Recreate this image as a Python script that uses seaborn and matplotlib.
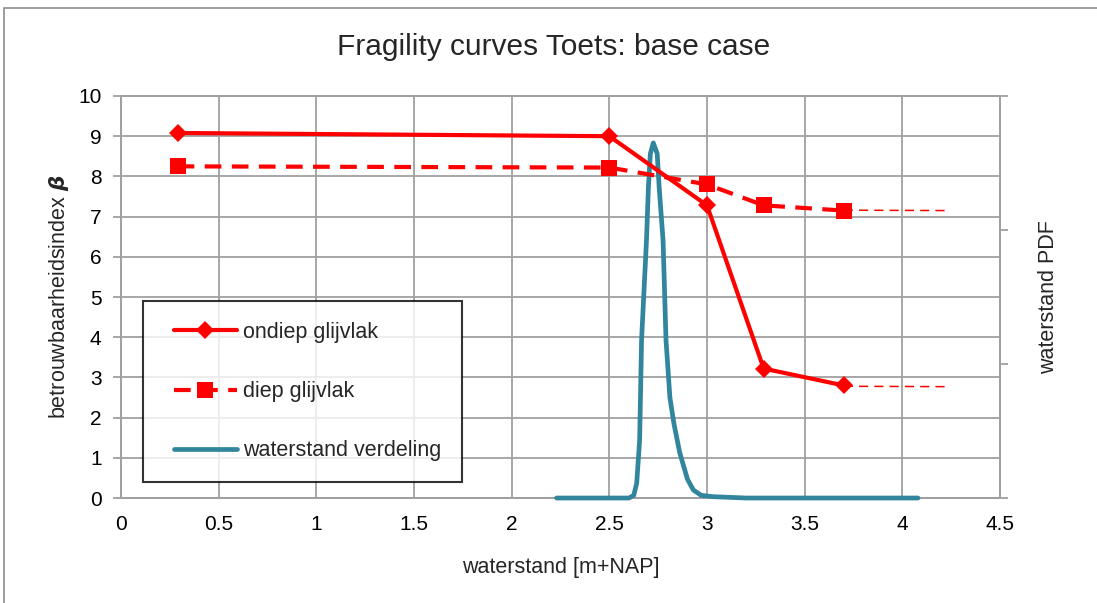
import numpy as np
import pandas as pd
import matplotlib
matplotlib.use('Agg')
import matplotlib.pyplot as plt
from matplotlib.patches import Rectangle
from matplotlib.lines import Line2D
from matplotlib.legend_handler import HandlerLine2D
import seaborn as sns

# fragility curves (waterstand -> beta)
x_frag = [0.29, 2.5, 3.0, 3.29, 3.7]
beta_ondiep = [9.08, 9.0, 7.28, 3.22, 2.8]
beta_diep = [8.25, 8.22, 7.8, 7.28, 7.15]

# extrapolation beyond last point
x_ext = [3.7, 4.22]
ext_ondiep = [2.78, 2.77]
ext_diep = [7.16, 7.15]

# waterstand PDF (right axis)
x_pdf = [2.23, 2.60, 2.625, 2.64, 2.655, 2.665, 2.69, 2.70, 2.71, 2.725, 2.745, 2.755, 2.775,
         2.79, 2.81, 2.83, 2.86, 2.90, 2.93, 2.97, 3.03, 3.2, 4.08]
pdf = [0.0, 0.0, 0.02, 0.11, 0.43, 1.18, 1.92, 2.32, 2.57, 2.65, 2.57, 2.32, 1.92,
       1.18, 0.75, 0.56, 0.34, 0.14, 0.06, 0.02, 0.01, 0.0, 0.0]

sns.set_style('white')
plt.rcParams['font.family'] = ['Liberation Sans', 'DejaVu Sans']

red = '#FF0000'
teal = '#31859C'
grid = '#A0A0A0'
fs = 15

fig = plt.figure(figsize=(10.97, 6.03), dpi=100)
ax = fig.add_axes([0.1103, 0.1741, 0.8013, 0.6667])
ax2 = ax.twinx()
ax2.set_ylim(0, 3)

# PDF is drawn in the left axes but in right-axis data units
sns.lineplot(x=x_pdf, y=pdf, ax=ax, color=teal, lw=3.4, label='waterstand verdeling',
             solid_capstyle='round', transform=ax2.transData, zorder=3, clip_on=False)
sns.lineplot(x=x_frag, y=beta_ondiep, ax=ax, color=red, lw=3, marker='D', markersize=9,
             markeredgewidth=0, label='ondiep glijvlak', zorder=5)
sns.lineplot(x=x_frag, y=beta_diep, ax=ax, color=red, lw=3, marker='s', markersize=12,
             markeredgewidth=0, linestyle=(0, (4, 2.5)), label='diep glijvlak', zorder=4)
sns.lineplot(x=x_ext, y=ext_ondiep, ax=ax, color=red, lw=1.1, linestyle=(0, (6, 4)), legend=False)
sns.lineplot(x=x_ext, y=ext_diep, ax=ax, color=red, lw=1.1, linestyle=(0, (6, 4)), legend=False)

ax.set_xlim(0, 4.5)
ax.set_ylim(0, 10)
ax.set_xticks(np.arange(0, 4.51, 0.5))
ax.set_xticklabels(['0', '0.5', '1', '1.5', '2', '2.5', '3', '3.5', '4', '4.5'])
ax.set_yticks(range(0, 11))
ax2.set_yticks([0, 1, 2, 3])
ax2.set_yticklabels([])

ax.set_axisbelow(True)
ax.grid(True, color=grid, lw=1.3)
for a in (ax, ax2):
    for s in a.spines.values():
        s.set_color(grid)
        s.set_linewidth(1.3)
    a.tick_params(direction='out', length=6, width=1.3, color=grid, labelsize=fs,
                  labelcolor='black')
ax.tick_params(axis='x', pad=6)
ax.tick_params(axis='y', pad=8)

ax.set_xlabel('waterstand [m+NAP]', fontsize=fs + 0.5, labelpad=17)
ax.set_ylabel(r'betrouwbaarheidsindex $\boldsymbol{\beta}$', fontsize=fs + 0.5, labelpad=5)
ax2.set_ylabel('waterstand PDF', fontsize=fs + 0.5, labelpad=18)
fig.text(0.505, 0.922, 'Fragility curves Toets: base case', ha='center', va='center', fontsize=21.5)

# legend in the reference order
h, l = ax.get_legend_handles_labels()
order = [l.index('ondiep glijvlak'), l.index('diep glijvlak'), l.index('waterstand verdeling')]
leg = ax.legend([h[i] for i in order], [l[i] for i in order], loc='lower left',
                bbox_to_anchor=(0.025, 0.04), fontsize=fs + 0.5, frameon=True, fancybox=False,
                edgecolor='black', handlelength=3.4, labelspacing=1.78, borderpad=0.95,
                handletextpad=0.3, borderaxespad=0,
                handler_map={Line2D: HandlerLine2D(xpad=0.47)})
leg.get_frame().set_linewidth(1.5)
leg.set_zorder(10)
ax.set_zorder(ax2.get_zorder() + 1)
ax.patch.set_visible(False)

fig.patches.append(Rectangle((0.004, -0.01), 1.1, 0.997, transform=fig.transFigure,
                             fill=False, edgecolor='#8C8C8C', lw=1.2))

fig.savefig('out.png', dpi=100)
